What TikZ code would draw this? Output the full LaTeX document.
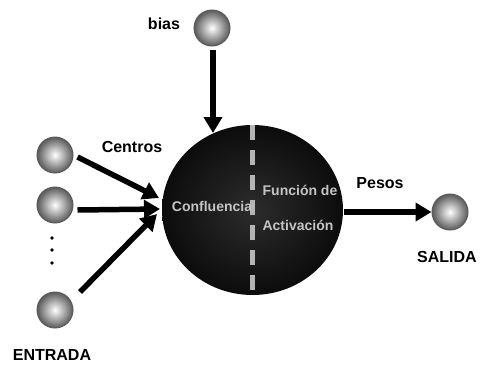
\documentclass[tikz,border=0pt]{standalone}
\usepackage{fontspec}
\setmainfont{Liberation Sans}
\usetikzlibrary{arrows.meta,shapes.geometric}
\definecolor{bodycore}{HTML}{2C2C2C}
\definecolor{bodyedge}{HTML}{0C0C0C}
\definecolor{innertext}{HTML}{C4C4C4}
\definecolor{dividercol}{HTML}{B4B4B4}
\definecolor{unitrim}{HTML}{5A5A5A}
\begin{document}
\begin{tikzpicture}[x=1pt,y=-1pt,
  unit/.style={circle,minimum size=36pt,inner sep=0pt,draw=unitrim,line width=1pt,
    shading=radial,inner color=white,outer color=gray!70!black},
  neuron/.style={ellipse,minimum width=181pt,minimum height=170pt,inner sep=0pt,
    shading=radial,inner color=bodycore,outer color=bodyedge},
  lbl/.style={font=\fontsize{16}{18}\selectfont\bfseries,text=black,inner sep=0pt},
  inlbl/.style={font=\fontsize{14}{16}\selectfont\bfseries,text=innertext,inner sep=0pt},
  link/.style={line width=5.5pt,-{Triangle[length=16pt,width=18pt]}},
  divider/.style={draw=dividercol,line width=4.5pt,dash pattern=on 15pt off 10pt}
]
\useasboundingbox (0,0) rectangle (480,365);

% central processing unit
\node[neuron] (main) at (252.5,210) {};
\draw[divider] (main.north) -- (main.south);
\node[inlbl] (conf) at (212,206) {Confluencia};
\node[inlbl] (func) at (300,190) {Función de};
\node[inlbl] (act) at (298,225) {Activación};

% input, bias and output units
\node[unit] (in1) at (55,155) {};
\node[unit] (in2) at (55,205) {};
\node[unit] (in3) at (55,310) {};
\node[unit] (bias) at (212,28) {};
\node[unit] (out) at (450,212) {};

% ellipsis between the inputs
\foreach \yy/\nm in {238/d1,250/d2,263/d3}
  \fill (52,\yy) circle (1.8pt) coordinate (\nm);

% arrow end points
\coordinate (t1) at (159,198);
\coordinate (t2) at (160,209);
\coordinate (t3) at (157,214);
\coordinate (tb) at (213,133);
\coordinate (so) at (344,212);
\coordinate (sb) at (213,50);

% connectors
\draw[link] (in1.east) ++(4,2) -- (t1);
\draw[link] (in2.east) ++(4,5) -- (t2);
\draw[link] (in3) ++(25,-18) -- (t3);
\draw[link] (sb) -- (tb);
\draw[link] (so) -- (out.west);

% labels
\node[lbl] (lbias) at (164,24) {bias};
\node[lbl] (lcent) at (132,147) {Centros};
\node[lbl] (lpes) at (380,183) {Pesos};
\node[lbl] (lsal) at (447,257) {SALIDA};
\node[lbl] (lent) at (52,355) {ENTRADA};
\end{tikzpicture}
\end{document}
